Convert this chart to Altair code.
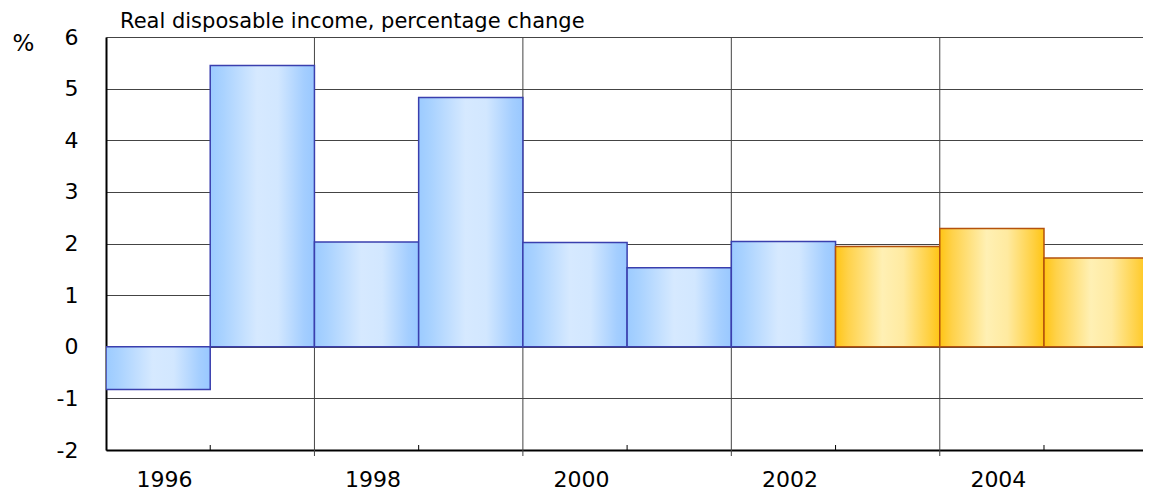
import altair as alt
import pandas as pd

title_text = ["Real disposable income, percentage change"]
years = [1996, 1997, 1998, 1999, 2000, 2001, 2002, 2003, 2004, 2005]
values = [-0.83, 5.45, 2.03, 4.83, 2.02, 1.53, 2.04, 1.94, 2.29, 1.72]
kind = ["actual"] * 7 + ["forecast"] * 3
label_years = [1996, 1998, 2000, 2002, 2004]
y_ticks = [-2, -1, 0, 1, 2, 3, 4, 5, 6]

df = pd.DataFrame({"year": years, "value": values, "kind": kind})

W, H = 1037, 413
FONT = "DejaVu Sans"

blue_grad = {
    "gradient": "linear", "x1": 0, "x2": 1, "y1": 0, "y2": 0,
    "stops": [
        {"offset": 0, "color": "#9ccbff"},
        {"offset": 0.12, "color": "#a9d2ff"},
        {"offset": 0.45, "color": "#d6e9ff"},
        {"offset": 0.65, "color": "#d2e7ff"},
        {"offset": 0.9, "color": "#a4ceff"},
        {"offset": 1, "color": "#99c8ff"},
    ],
}
orange_grad = {
    "gradient": "linear", "x1": 0, "x2": 1, "y1": 0, "y2": 0,
    "stops": [
        {"offset": 0, "color": "#ffc515"},
        {"offset": 0.12, "color": "#ffd24a"},
        {"offset": 0.45, "color": "#fff0b4"},
        {"offset": 0.65, "color": "#ffeaa0"},
        {"offset": 0.9, "color": "#ffd040"},
        {"offset": 1, "color": "#ffc515"},
    ],
}

xscale = alt.Scale(domain=[1995.5, 2005.45], nice=False, zero=False)
yscale = alt.Scale(domain=[-2, 6], nice=False)

base = alt.Chart(df).transform_calculate(
    x0="datum.year - 0.5", x1="datum.year + 0.5"
)

xaxis = alt.Axis(
    values=label_years, format="d", title=None, grid=False, ticks=False,
    labelFont=FONT, labelFontSize=22, labelColor="#000", labelPadding=29,
    labelBaseline="middle", labelOffset=6, domainColor="#000", domainWidth=2,
    labelFlush=False,
)
yaxis = alt.Axis(
    values=y_ticks, title="%", titleAngle=0, titleX=-94, titleY=6,
    titleAlign="left", titleBaseline="middle", titleFont=FONT,
    titleFontSize=23, titleFontWeight="normal", titleColor="#000",
    grid=True, gridColor="#444", gridWidth=1, ticks=False,
    labelExpr="'' + datum.value",
    labelFont=FONT, labelFontSize=22, labelColor="#000", labelPadding=28,
    domainColor="#000", domainWidth=2,
)

vgrid = base.transform_filter(
    "datum.year % 2 == 0 && datum.year > 1996"
).mark_rule(color="#444", strokeWidth=1).encode(
    x=alt.X("x0:Q", scale=xscale, axis=xaxis),
    y=alt.value(0), y2=alt.value(H + 6),
)

bars_blue = base.transform_filter("datum.kind == 'actual'").mark_bar(
    fill=blue_grad, stroke="#3a3fae", strokeWidth=1.5, clip=True
).encode(
    x=alt.X("x0:Q", scale=xscale, axis=xaxis),
    x2="x1:Q",
    y=alt.Y("value:Q", scale=yscale, axis=yaxis),
    y2=alt.datum(0),
)

bars_orange = base.transform_filter("datum.kind == 'forecast'").mark_bar(
    fill=orange_grad, stroke="#b4520c", strokeWidth=1.5, clip=True
).encode(
    x=alt.X("x0:Q", scale=xscale, axis=xaxis),
    x2="x1:Q",
    y=alt.Y("value:Q", scale=yscale, axis=yaxis),
    y2=alt.datum(0),
)

ticks = base.transform_filter("datum.year % 2 == 1").mark_rule(
    color="#000", strokeWidth=1
).encode(
    x=alt.X("x0:Q", scale=xscale, axis=xaxis),
    y=alt.value(H - 5), y2=alt.value(H),
)

title = alt.Chart(pd.DataFrame({"t": title_text})).mark_text(
    align="left", baseline="alphabetic", font=FONT, fontSize=21,
    color="#000"
).encode(text="t:N", x=alt.value(14), y=alt.value(-9))

chart = alt.layer(vgrid, bars_blue, bars_orange, ticks, title).properties(
    width=W, height=H,
    autosize=alt.AutoSizeParams(type="none"),
    padding={"left": 98, "top": 29, "right": 0, "bottom": 41},
).configure_view(stroke=None).configure(background="white")

chart.save("out.html", embed_options={"renderer": "svg", "actions": False})
